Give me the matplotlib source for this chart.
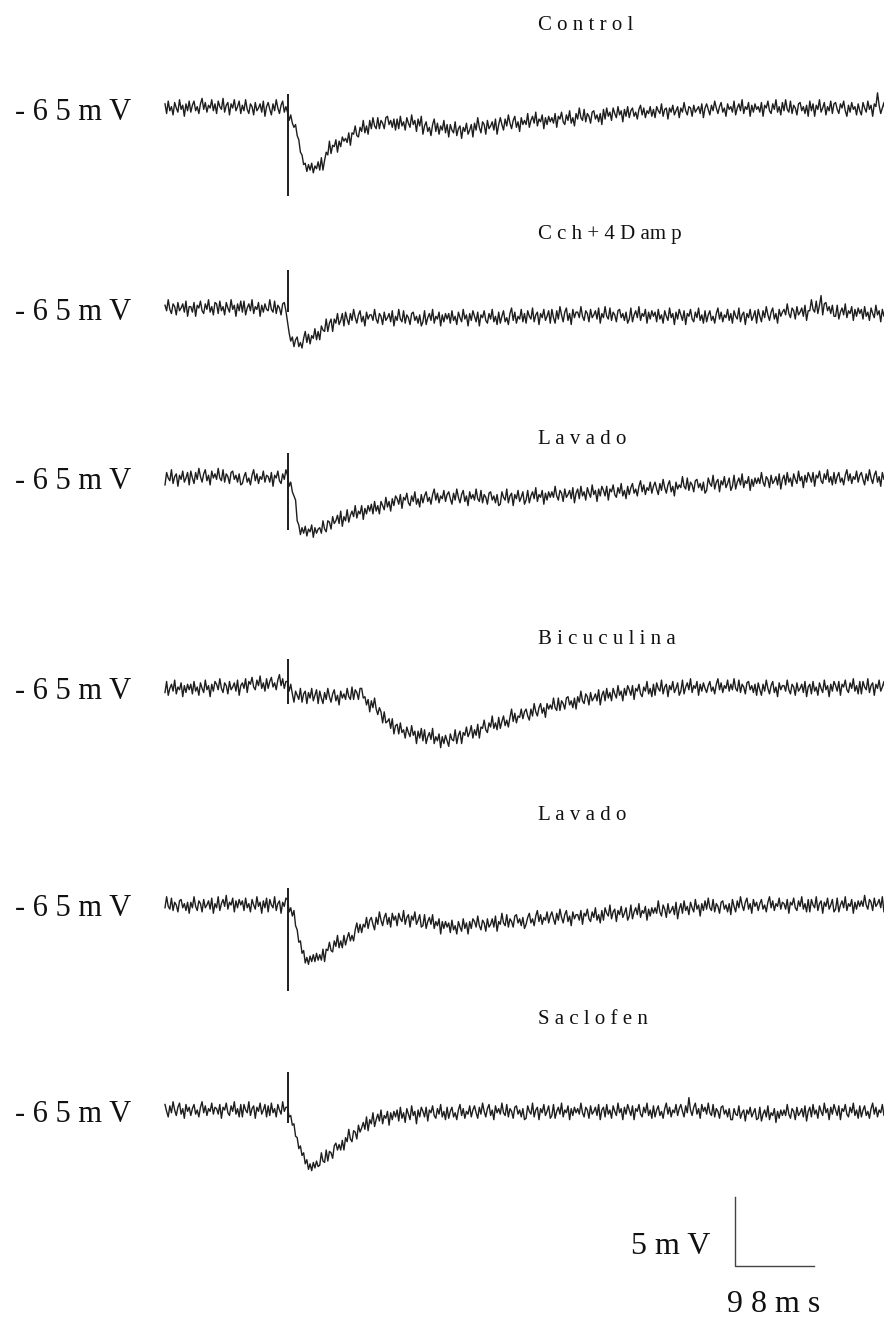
import numpy as np
import matplotlib.pyplot as plt

plt.rcParams['font.family'] = ['Liberation Serif', 'DejaVu Serif']

# ---- data -------------------------------------------------------------
DT = 2.0          # ms per sample
STIM_MS = 152.0   # time of stimulus artifact (sample 76)

titles = ['C o n t r o l', 'C c h + 4 D am p', 'L a v a d o',
          'B i c u c u l i n a', 'L a v a d o', 'S a c l o f e n']
rest_label = '- 6 5 m V'

# membrane potential, tenths of mV relative to rest (-65 mV); 16 samples (32 ms) per row
control = [
    3, -4, 5, -2, 1, -5, 4, 0, -3, 6, -1, 2, -6, 3, -2, 5,
    -3, 2, 5, -2, 1, -4, 3, 7, -1, 4, -3, 2, 0, 6, -2, 3,
    -4, 5, 1, -1, 7, -3, 2, 4, -5, 3, 0, 6, -2, 1, 5, -4,
    2, -2, 6, -1, -4, 3, 1, -5, 4, -2, 0, 3, -3, 5, -6, 1,
    4, -1, -5, 3, -2, 6, 0, -4, 2, 5, -3, 1, -3, -9, -5, -11,
    -14, -12, -20, -23, -32, -34, -41, -40, -46, -41, -45, -40, -47, -42, -44, -39,
    -45, -36, -45, -38, -32, -34, -24, -33, -27, -28, -23, -32, -24, -28, -21, -24,
    -22, -25, -18, -27, -18, -19, -13, -20, -21, -14, -17, -9, -18, -13, -19, -9,
    -15, -7, -13, -15, -7, -15, -9, -11, -15, -7, -6, -12, -9, -14, -8, -16,
    -8, -15, -6, -13, -10, -16, -7, -11, -14, -5, -12, -9, -17, -8, -13, -6,
    -19, -13, -10, -17, -14, -20, -12, -8, -17, -11, -19, -13, -16, -9, -18, -12,
    -21, -12, -16, -18, -10, -20, -15, -13, -22, -14, -17, -11, -19, -16, -12, -21,
    -11, -16, -7, -14, -18, -10, -12, -19, -9, -15, -13, -10, -16, -8, -19, -12,
    -7, -12, -16, -8, -13, -5, -11, -15, -9, -6, -14, -10, -17, -7, -12, -9,
    -12, -4, -14, -9, -6, -11, -3, -13, -8, -10, -5, -15, -7, -12, -6, -10,
    -7, -11, -4, -14, -6, -8, -3, -10, -12, -5, -9, -2, -11, -7, -13, -4,
    -8, 0, -7, -9, -1, -10, -4, -6, -11, -3, -2, -8, -5, -10, -4, -12,
    -1, -8, 0, -6, -3, -9, 0, -4, -7, 1, -5, -2, -10, -1, -6, 1,
    -7, -2, 0, -6, -3, -8, -1, 2, -5, 0, -7, -2, -4, 1, -6, -1,
    -7, 1, -2, -4, 3, -6, -1, 0, -8, 0, -3, 2, -5, -2, 1, -7,
    0, -3, 4, -2, -5, 1, 0, -6, 2, -3, -1, 1, -4, 3, -7, 0,
    3, -1, -5, 2, -2, 5, 0, -4, 1, 4, -3, 0, -6, 3, -1, 1,
    -3, 5, -5, 0, 3, -2, 6, -4, 1, -1, 4, -6, 2, -3, 3, -1,
    1, -3, 4, -6, 2, 0, 5, -2, -4, 3, -1, 6, -3, 1, -5, 4,
    -2, 6, -1, -3, 5, -4, 2, 0, -5, 3, 4, -2, 1, -4, 2, -6,
    5, -2, 3, -6, 2, -1, 6, -3, 0, 4, -5, 1, -2, 5, -4, 3,
    4, -1, -4, 3, 0, 5, -2, -6, 2, -3, 4, -1, 1, -5, 3, -2,
    -5, 4, 0, -3, 5, -1, 2, -6, 3, 1, 11, 2, -4, 0, 4, -5,
]
cch_4damp = [
    2, -2, 6, -1, -4, 3, 1, -5, 4, -2, 0, 3, -3, 5, -6, 1,
    1, -3, 4, -6, 2, 0, 5, -2, -4, 3, -1, 6, -3, 1, -5, 4,
    3, -4, 5, -2, 1, -5, 4, 0, -3, 6, -1, 2, -6, 3, -2, 5,
    -3, 5, -5, 0, 3, -2, 6, -4, 1, -1, 4, -6, 2, -3, 3, -1,
    -2, 6, -1, -3, 5, -4, 2, 0, -5, 3, 4, -2, -10, -18, -24, -21,
    -28, -23, -21, -28, -25, -29, -22, -17, -25, -19, -26, -20, -22, -15, -23, -17,
    -23, -13, -16, -17, -8, -17, -11, -8, -17, -8, -11, -4, -12, -9, -4, -13,
    -3, -8, -12, -4, -9, -1, -7, -11, -5, -2, -10, -6, -13, -3, -8, -5,
    -5, -9, -1, -8, -11, -4, -6, -12, -3, -9, -7, -4, -10, -2, -13, -6,
    -9, -1, -8, -10, -2, -11, -5, -7, -12, -4, -3, -9, -6, -11, -5, -13,
    -10, -2, -12, -7, -4, -9, -1, -11, -6, -8, -3, -13, -5, -10, -4, -8,
    -4, -11, -2, -9, -6, -12, -3, -7, -10, -1, -8, -5, -13, -4, -9, -2,
    -6, -10, -3, -13, -5, -7, -2, -9, -11, -4, -8, -1, -10, -6, -12, -3,
    -11, -6, -2, -10, -7, -12, -4, 0, -9, -3, -11, -6, -8, -1, -10, -4,
    -11, -2, -6, -8, 0, -10, -5, -3, -12, -4, -7, -1, -9, -6, -2, -11,
    -1, -7, -11, -2, -8, 1, -5, -10, -3, 0, -9, -4, -12, -1, -7, -3,
    -3, -7, 1, -6, -9, -2, -4, -10, -1, -7, -5, -2, -8, 0, -11, -4,
    -7, 1, -6, -8, 0, -9, -3, -5, -10, -2, -1, -7, -4, -9, -3, -11,
    -8, 0, -10, -5, -2, -7, 1, -9, -4, -6, -1, -11, -3, -8, -2, -6,
    -3, -10, -1, -8, -5, -11, -2, -6, -9, 0, -7, -4, -12, -3, -8, -1,
    -5, -9, -2, -12, -4, -6, -1, -8, -10, -3, -7, 0, -9, -5, -11, -2,
    -10, -5, -2, -9, -6, -11, -4, 0, -8, -3, -10, -5, -7, -1, -9, -4,
    -11, -2, -6, -8, 0, -10, -5, -3, -12, -4, -7, -1, -9, -6, -2, -11,
    -1, -6, -10, -2, -7, 1, -5, -9, -3, 0, -8, -4, -11, -1, -6, -3,
    -1, -5, 3, -4, -7, 0, -2, -8, 1, -5, -3, 0, -6, 2, -9, -2,
    -2, 6, -1, -3, 5, -4, 2, 9, -5, 3, 4, -2, 1, -4, 2, -6,
    -6, 2, -8, -3, 0, -5, 3, -7, -2, -4, 1, -9, -1, -6, 0, -4,
    -1, -8, 1, -6, -3, -9, 0, -4, -7, 2, -5, -2, -10, -1, -6, 1,
]
lavado_1 = [
    -5, 4, 0, -2, 6, -4, 1, 3, -6, 2, -1, 5, -3, 0, 4, -5,
    5, 0, -4, 4, -1, 7, 1, -3, 3, 6, -2, 2, -5, 5, 0, 3,
    -1, 7, 0, -2, 6, -3, 3, 1, -4, 4, 5, -1, 2, -3, 3, -5,
    -4, 1, 4, -3, 0, -5, 2, 6, -2, 3, -4, 1, -1, 5, -3, 2,
    1, -3, 4, -6, 2, 0, 5, -2, -4, 3, -1, 6, 2, -6, -3, -10,
    -13, -16, -31, -34, -41, -36, -40, -35, -42, -37, -39, -34, -43, -36, -40, -37,
    -36, -40, -31, -37, -39, -31, -32, -37, -28, -33, -31, -27, -33, -24, -35, -28,
    -31, -23, -32, -27, -24, -28, -20, -29, -24, -26, -20, -30, -22, -26, -20, -24,
    -19, -26, -17, -24, -20, -26, -17, -20, -23, -14, -21, -17, -24, -15, -20, -13,
    -15, -19, -12, -22, -14, -16, -11, -18, -20, -13, -17, -10, -19, -15, -21, -12,
    -18, -13, -10, -17, -14, -19, -12, -8, -16, -11, -18, -13, -15, -9, -17, -12,
    -10, -15, -19, -11, -16, -8, -14, -18, -12, -9, -17, -13, -20, -10, -15, -12,
    -16, -8, -15, -17, -9, -18, -12, -14, -19, -11, -10, -16, -13, -18, -12, -20,
    -19, -10, -14, -16, -8, -18, -13, -11, -20, -12, -15, -9, -17, -14, -10, -19,
    -16, -9, -18, -13, -10, -15, -7, -17, -12, -14, -9, -19, -11, -16, -10, -14,
    -10, -14, -6, -13, -16, -9, -11, -17, -8, -14, -12, -9, -15, -7, -18, -11,
    -8, -15, -6, -13, -10, -16, -7, -11, -14, -5, -12, -9, -17, -8, -13, -6,
    -9, -13, -6, -16, -8, -10, -5, -12, -14, -7, -11, -4, -13, -9, -15, -6,
    -12, -7, -4, -11, -8, -13, -6, -2, -10, -5, -12, -7, -9, -3, -11, -6,
    -3, -8, -12, -4, -9, -1, -7, -11, -5, -2, -10, -6, -13, -3, -8, -5,
    -7, 1, -6, -8, 0, -9, -3, -5, -10, -2, -1, -7, -4, -9, -3, -11,
    -9, 0, -4, -6, 2, -8, -3, -1, -10, -2, -5, 1, -7, -4, 0, -9,
    -6, 2, -8, -3, 0, -5, 3, -7, -2, -4, 1, -9, -1, -6, 0, -4,
    0, -4, 4, -3, -6, 1, -1, -7, 2, -4, -2, 1, -5, 3, -8, -1,
    2, -5, 4, -3, 0, -6, 3, -1, -4, 5, -2, 1, -7, 2, -3, 4,
    1, -3, 4, -6, 2, 0, 5, -2, -4, 3, -1, 6, -3, 1, -5, 4,
    -4, 1, 4, -3, 0, -5, 2, 6, -2, 3, -4, 1, -1, 5, -3, 2,
    4, -1, -5, 3, -2, 6, 0, -4, 2, 5, -3, 1, -6, 4, -1, 2,
]
bicuculina = [
    -4, 4, -6, -1, 2, -3, 5, -5, 0, -2, 3, -7, 1, -4, 2, -2,
    2, -5, 4, -3, 0, -6, 3, -1, -4, 5, -2, 1, -7, 2, -3, 4,
    2, -2, 6, -1, -4, 3, 1, -5, 4, -2, 0, 3, -3, 5, -6, 1,
    3, -1, 6, -4, 4, 2, 7, 0, -2, 5, 1, 8, -1, 3, -3, 6,
    -1, 4, 7, 0, 3, -2, 5, 9, 1, 6, -1, 4, 4, -3, 2, -5,
    -11, -3, -6, -9, -1, -11, -5, -3, -12, -4, -8, -1, -10, -6, -2, -12,
    -3, -8, -12, -4, -9, -1, -7, -11, -5, -2, -10, -6, -13, -3, -8, -5,
    -9, -1, -7, -9, 0, -9, -2, -4, -9, -1, -1, -8, -7, -13, -9, -18,
    -10, -15, -8, -16, -20, -15, -18, -26, -18, -26, -25, -23, -30, -23, -34, -28,
    -27, -34, -26, -33, -31, -37, -29, -33, -36, -28, -35, -32, -41, -32, -37, -30,
    -39, -31, -41, -36, -33, -38, -30, -41, -36, -39, -34, -44, -36, -41, -35, -39,
    -43, -34, -38, -39, -31, -41, -35, -32, -41, -33, -35, -29, -36, -33, -28, -37,
    -31, -35, -27, -37, -29, -30, -24, -31, -33, -26, -29, -21, -30, -26, -31, -22,
    -30, -25, -21, -28, -24, -29, -22, -16, -25, -19, -26, -21, -22, -16, -23, -18,
    -16, -21, -24, -16, -21, -12, -18, -21, -15, -12, -19, -15, -22, -12, -16, -13,
    -16, -8, -15, -17, -8, -17, -10, -12, -16, -8, -7, -13, -10, -15, -8, -16,
    -7, -11, -3, -10, -12, -5, -7, -13, -4, -10, -8, -5, -10, -2, -13, -6,
    -3, -10, -1, -8, -4, -10, -1, -5, -8, 1, -6, -3, -10, -1, -6, 1,
    -2, -6, 1, -9, -1, -3, 2, -5, -7, 0, -3, 4, -5, -1, -7, 2,
    -6, 3, -1, -3, 5, -5, 0, 2, -7, 1, -2, 4, -4, -1, 3, -6,
    -3, 5, -5, 0, 3, -2, 6, -4, 1, -1, 4, -6, 2, -3, 3, -1,
    -4, 1, 4, -3, 0, -5, 2, 6, -2, 3, -4, 1, -1, 5, -3, 2,
    -2, 6, -1, -3, 5, -4, 2, 0, -5, 3, 4, -2, 1, -4, 2, -6,
    3, -2, -6, 2, -3, 5, -1, -5, 1, 4, -4, 0, -7, 3, -2, 1,
    1, -3, 5, -2, -5, 2, 0, -6, 3, -3, -1, 2, -4, 4, -7, 0,
    2, -5, 4, -3, 0, -6, 3, -1, -4, 5, -2, 1, -7, 2, -3, 4,
    1, -3, 4, -6, 2, 0, 5, -2, -4, 3, -1, 6, -3, 1, -5, 4,
    -5, 4, 0, -2, 6, -4, 1, 3, -6, 2, -1, 5, -3, 0, 4, -5,
]
lavado_2 = [
    -2, 6, -1, -3, 5, -4, 2, 0, -5, 3, 4, -2, 1, -4, 2, -6,
    2, -2, 6, -1, -4, 3, 1, -5, 4, -2, 0, 3, -3, 5, -6, 1,
    -2, 6, -4, 1, 4, -1, 7, -3, 2, 0, 5, -5, 3, -2, 4, 0,
    3, -4, 5, -2, 1, -5, 4, 0, -3, 6, -1, 2, -6, 3, -2, 5,
    -5, 4, 0, -2, 6, -4, 1, 3, -6, 2, -1, 5, 4, -5, -2, -8,
    -4, -15, -18, -27, -26, -35, -33, -42, -38, -43, -37, -41, -36, -41, -35, -40,
    -36, -40, -32, -41, -32, -33, -27, -33, -34, -26, -30, -22, -31, -26, -31, -22,
    -29, -24, -20, -26, -22, -26, -18, -13, -20, -14, -20, -14, -16, -9, -17, -11,
    -9, -14, -18, -9, -14, -5, -11, -15, -9, -6, -14, -9, -16, -6, -11, -8,
    -15, -6, -10, -12, -4, -14, -9, -7, -16, -8, -11, -5, -14, -11, -7, -16,
    -15, -7, -17, -12, -9, -14, -7, -17, -12, -15, -10, -21, -12, -17, -12, -16,
    -13, -20, -11, -18, -15, -21, -12, -16, -19, -10, -17, -13, -21, -12, -17, -10,
    -12, -16, -8, -15, -18, -11, -13, -19, -10, -16, -14, -10, -16, -8, -19, -12,
    -14, -6, -13, -15, -7, -16, -10, -12, -16, -8, -7, -13, -10, -15, -9, -17,
    -14, -9, -6, -13, -10, -15, -8, -4, -12, -7, -14, -9, -11, -5, -13, -8,
    -5, -10, -14, -6, -11, -3, -9, -13, -7, -4, -12, -8, -15, -5, -10, -7,
    -7, -11, -4, -14, -6, -8, -3, -10, -12, -5, -9, -2, -11, -7, -13, -4,
    -11, -2, -6, -8, 0, -10, -5, -3, -12, -4, -7, -1, -9, -6, -2, -11,
    -8, 0, -10, -5, -2, -7, 1, -9, -4, -6, -1, -11, -3, -8, -2, -6,
    -2, -6, 3, -5, -8, 0, -3, -9, 1, -6, -4, -1, -7, 2, -10, -3,
    1, -6, 3, -4, -1, -7, 2, -2, -5, 4, -3, 0, -8, 1, -4, 3,
    -3, 5, -2, -4, 4, -5, 1, -1, -6, 2, 3, -3, 0, -5, 1, -7,
    4, -1, -5, 3, -2, 6, 0, -4, 2, 5, -3, 1, -6, 4, -1, 2,
    -4, 1, 4, -3, 0, -5, 2, 6, -2, 3, -4, 1, -1, 5, -3, 2,
    1, -3, 4, -6, 2, 0, 5, -2, -4, 3, -1, 6, -3, 1, -5, 4,
    -5, 4, 0, -2, 6, -4, 1, 3, -6, 2, -1, 5, -3, 0, 4, -5,
    -3, 5, -5, 0, 3, -2, 6, -4, 1, -1, 4, -6, 2, -3, 3, -1,
    3, -1, 7, 0, -3, 4, 2, -4, 5, -1, 1, 4, -2, 6, -5, 2,
]
saclofen = [
    4, -1, -5, 3, -2, 6, 0, -4, 2, 5, -3, 1, -6, 4, -1, 2,
    -4, 1, 4, -3, 0, -5, 2, 6, -2, 3, -4, 1, -1, 5, -3, 2,
    1, -3, 4, -6, 2, 0, 5, -2, -4, 3, -1, 6, -3, 1, -5, 4,
    -5, 4, 0, -2, 6, -4, 1, 3, -6, 2, -1, 5, -3, 0, 4, -5,
    3, -4, 5, -2, 1, -5, 4, 0, -3, 6, -1, 2, 2, -5, -4, -11,
    -10, -19, -20, -28, -26, -33, -31, -39, -36, -43, -39, -44, -38, -42, -37, -41,
    -40, -31, -37, -38, -29, -37, -30, -31, -35, -26, -24, -29, -25, -29, -22, -29,
    -20, -23, -14, -21, -23, -15, -16, -21, -11, -16, -13, -9, -14, -5, -15, -7,
    -10, -2, -12, -7, -3, -8, 0, -10, -4, -6, -1, -11, -2, -7, -1, -5,
    0, -8, 2, -6, -2, -9, 1, -3, -7, 3, -4, -1, -10, 0, -5, 2,
    -1, -5, 2, -8, 0, -2, 3, -4, -6, 1, -3, 4, -5, -1, -7, 2,
    -6, -1, 2, -5, -2, -7, 0, 4, -4, 1, -6, -1, -3, 3, -5, 0,
    3, -2, -6, 2, -3, 5, -1, -5, 1, 4, -4, 0, -7, 3, -2, 1,
    -3, 5, -2, -4, 4, -5, 1, -1, -6, 2, 3, -3, 0, -5, 1, -7,
    -6, 3, -1, -3, 5, -5, 0, 2, -7, 1, -2, 4, -4, -1, 3, -6,
    -4, 4, -6, -1, 2, -3, 5, -5, 0, -2, 3, -7, 1, -4, 2, -2,
    1, -3, 5, -2, -5, 2, 0, -6, 3, -3, -1, 2, -4, 4, -7, 0,
    2, -5, 4, -3, 0, -6, 3, -1, -4, 5, -2, 1, -7, 2, -3, 4,
    0, -4, 3, -7, 1, -1, 4, -3, -5, 2, -2, 5, -4, 0, -6, 3,
    -5, 0, 3, -4, -1, -6, 1, 5, -3, 2, -5, 0, -2, 4, -4, 1,
    4, -1, -5, 3, -2, 9, 0, -4, 2, 5, -3, 1, -6, 4, -1, 2,
    -3, 5, -2, -4, 4, -5, 1, -1, -6, 2, 3, -3, 0, -5, 1, -7,
    -7, 1, -3, -4, 3, -6, -2, 0, -8, 0, -3, 2, -5, -2, 1, -7,
    -6, 2, -8, -3, 0, -5, 3, -7, -2, -4, 1, -9, -1, -6, 0, -4,
    0, -4, 4, -3, -6, 1, -1, -7, 2, -4, -2, 1, -5, 3, -8, -1,
    2, -5, 4, -3, 0, -6, 3, -1, -4, 5, -2, 1, -7, 2, -3, 4,
    0, -4, 3, -7, 1, -1, 4, -3, -5, 2, -2, 5, -4, 0, -6, 3,
    -5, 0, 3, -4, -1, -6, 1, 5, -3, 2, -5, 0, -2, 4, -4, 1,
]
traces = [control, cch_4damp, lavado_1, bicuculina, lavado_2, saclofen]

# stimulus artifact extent, mV relative to rest
art_top = [1.0, 2.75, 1.8, 2.0, 1.2, 2.75]
art_bot = [-6.4, -0.3, -3.8, -1.2, -6.2, -0.95]

scale_mv = 5
scale_ms = 98

# ---- layout (pixels) --------------------------------------------------
W, H = 884, 1319
PX_PER_MS = 0.806
PX_PER_MV = 13.8
X0_PX = 165
base_px = [108, 308, 478, 687, 905, 1110]
title_px = [25, 235, 440, 640, 815, 1020]
bar_corner_px = (735, 1266)

fig = plt.figure(figsize=(W / 100, H / 100), dpi=100)
ax = fig.add_axes([0, 0, 1, 1])
ax.axis('off')
ax.set_xlim(-X0_PX / PX_PER_MS, (W - X0_PX) / PX_PER_MS)
ax.set_ylim(-H / PX_PER_MV, 0)

col = '#1e1e1e'
for i, vals in enumerate(traces):
    v = np.asarray(vals) / 10.0
    t = np.arange(len(v)) * DT
    off = -base_px[i] / PX_PER_MV
    ax.plot(t, v + off, color=col, lw=1.0)
    ax.vlines(STIM_MS, off + art_bot[i], off + art_top[i], color=col, lw=1.4)
    fig.text(15 / W, 1 - (base_px[i] + 4) / H, rest_label, fontsize=22,
             ha='left', va='center', color='#111111')
    fig.text(538 / W, 1 - title_px[i] / H, titles[i], fontsize=15,
             ha='left', va='center', color='#111111')

# scale bar
bx = (bar_corner_px[0] - X0_PX) / PX_PER_MS
by = -bar_corner_px[1] / PX_PER_MV
ax.plot([bx, bx, bx + scale_ms], [by + scale_mv, by, by], color='#444444', lw=1.0)
fig.text(710 / W, 1 - 1247 / H, f'{scale_mv} m V', fontsize=23,
         ha='right', va='center', color='#111111')
fig.text(774 / W, 1 - 1305 / H, '9 8 m s', fontsize=23,
         ha='center', va='center', color='#111111')

fig.savefig('out.png', dpi=100)
